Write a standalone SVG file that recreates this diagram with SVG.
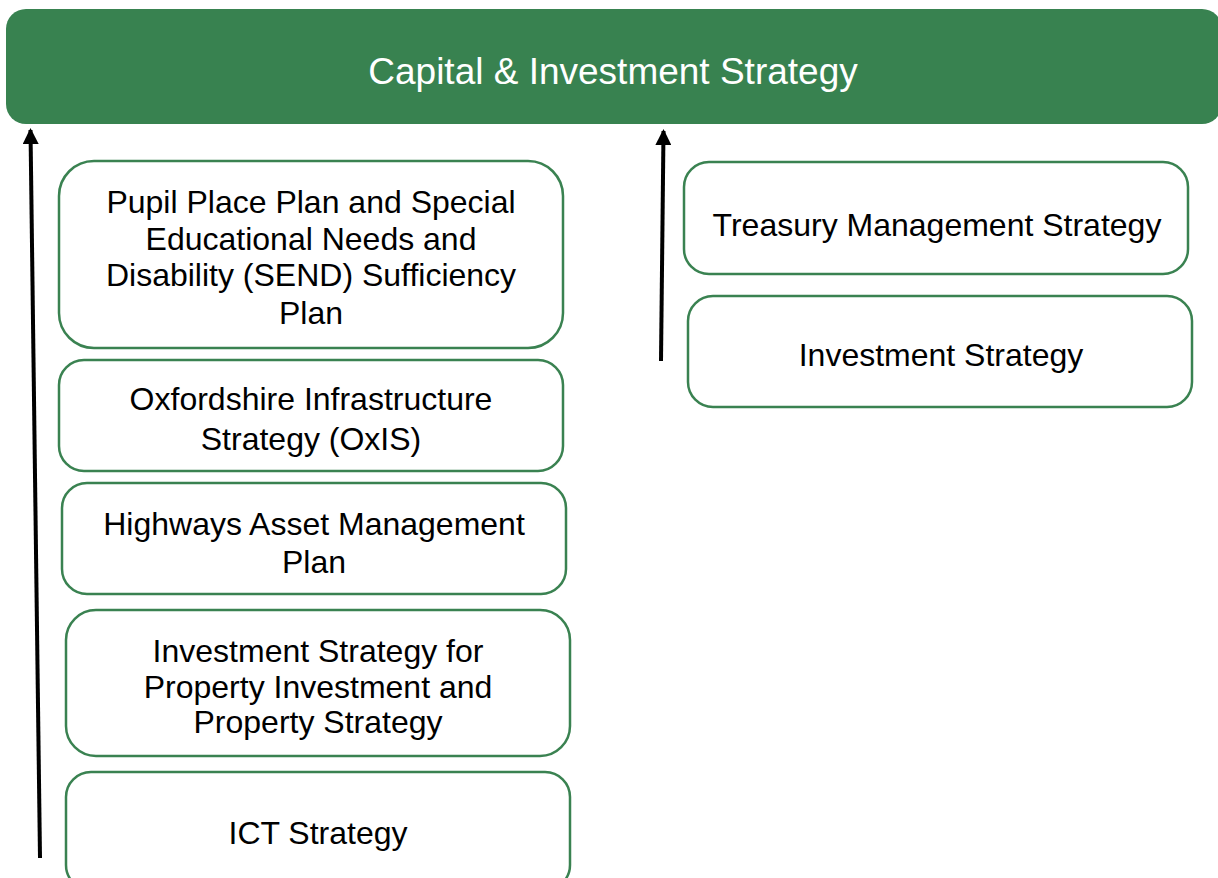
<svg xmlns="http://www.w3.org/2000/svg" width="1218" height="878" viewBox="0 0 1218 878">
<style>
.box{fill:#fff;stroke:#3a8251;stroke-width:2.5}
.t{font-family:"Liberation Sans",Arial,sans-serif;font-size:32px;fill:#000;text-anchor:middle}
.title{font-family:"Liberation Sans",Arial,sans-serif;font-size:37px;fill:#fff;text-anchor:middle}
.arr{stroke:#000;stroke-width:4;fill:none;marker-end:url(#ah)}
</style>
<defs>
<marker id="ah" markerWidth="4" markerHeight="4" refX="3.5" refY="2" orient="auto" markerUnits="strokeWidth">
<path d="M0,0 L4,2 L0,4 Z" fill="#000"/>
</marker>
</defs>
<rect width="1218" height="878" fill="#fff"/>
<g id="capital">
<rect x="6" y="9" width="1216" height="115" rx="20" fill="#388250"/>
<text class="title" x="613" y="84">Capital &amp; Investment Strategy</text>
</g>
<g id="connectors">
<line class="arr" x1="40" y1="858" x2="30.5" y2="130"/>
<line class="arr" x1="661" y1="361" x2="663.5" y2="131"/>
</g>
<g id="pupil">
<rect class="box" x="59" y="161" width="504" height="187" rx="35"/>
<text class="t" x="311" y="213">Pupil Place Plan and Special</text>
<text class="t" x="311" y="250">Educational Needs and</text>
<text class="t" x="311" y="286">Disability (SEND) Sufficiency</text>
<text class="t" x="311" y="324">Plan</text>
</g>
<g id="oxis">
<rect class="box" x="59" y="360" width="504" height="111" rx="25"/>
<text class="t" x="311" y="410">Oxfordshire Infrastructure</text>
<text class="t" x="311" y="450">Strategy (OxIS)</text>
</g>
<g id="highways">
<rect class="box" x="62" y="483" width="504" height="111" rx="25"/>
<text class="t" x="314" y="535">Highways Asset Management</text>
<text class="t" x="314" y="573">Plan</text>
</g>
<g id="property">
<rect class="box" x="66" y="610" width="504" height="146" rx="30"/>
<text class="t" x="318" y="662">Investment Strategy for</text>
<text class="t" x="318" y="698">Property Investment and</text>
<text class="t" x="318" y="733">Property Strategy</text>
</g>
<g id="ict">
<rect class="box" x="66" y="772" width="504" height="118" rx="25"/>
<text class="t" x="318" y="844">ICT Strategy</text>
</g>
<g id="treasury">
<rect class="box" x="684" y="162" width="504" height="112" rx="25"/>
<text class="t" x="937" y="236">Treasury Management Strategy</text>
</g>
<g id="investment">
<rect class="box" x="688" y="296" width="504" height="111" rx="25"/>
<text class="t" x="941" y="366">Investment Strategy</text>
</g>
</svg>
